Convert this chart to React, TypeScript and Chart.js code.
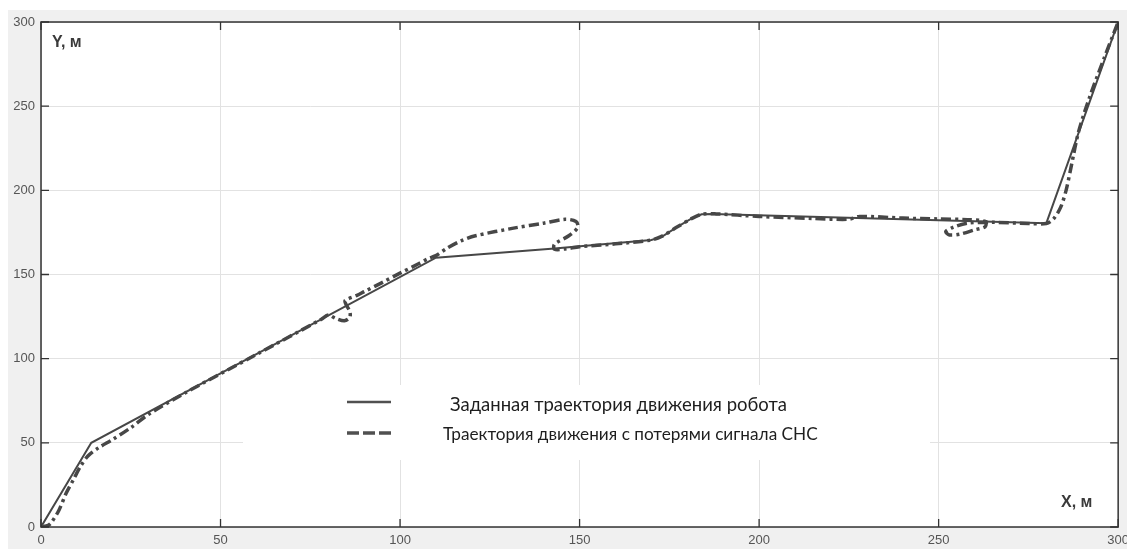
import { useEffect, useRef } from 'react';
import { Chart, registerables } from 'chart.js';

Chart.register(...registerables);

const xTicks = [0, 50, 100, 150, 200, 250, 300];
const yTicks = [0, 50, 100, 150, 200, 250, 300];

const xAxisLabel = 'X, м';
const yAxisLabel = 'Y, м';

const legendLabels = [
  'Заданная траектория движения робота',
  'Траектория движения с потерями сигнала СНС',
];

// Given (planned) trajectory
const solidX = [0, 14, 110, 143, 170, 173, 177, 181, 184, 187, 280, 300];
const solidY = [0, 50, 160, 165.5, 170.5, 172.5, 178, 183, 185.8, 186, 180.5, 300];

// Trajectory with GNSS signal losses
const dashedX = [
  0, 2, 3, 5, 7, 9, 11, 13, 16, 20, 25, 30, 40, 60, 78, 80, 82, 84.5, 86, 86, 85, 84.7, 88, 90, 95,
  100, 105, 108, 110, 113, 117, 121, 132, 140, 146, 149, 149.5, 147, 143, 143, 146, 150, 160, 170,
  173, 177, 181, 184, 188, 200, 215, 225, 228, 240, 250, 258, 263, 263, 260, 256, 253, 252, 254,
  258, 265, 275, 280, 282, 284, 285.5, 287, 289, 292, 296, 300,
];
const dashedY = [
  0, 1, 3, 10, 20, 28, 36, 42, 47, 52, 59, 67, 79.5, 102.5, 123.3, 126, 124, 122.5, 124.5, 128, 132,
  134.5, 137.6, 139.8, 145.2, 150.8, 156.2, 159.6, 161.2, 165.5, 170, 173, 177.7, 180.5, 182.8, 181.5,
  178, 173, 168, 165, 165.2, 166.5, 168.2, 170.5, 172.8, 178, 183, 185.8, 186, 184.5, 183.3, 182.8,
  184.5, 183.5, 183, 182.6, 181.5, 178.5, 176.5, 174, 173.5, 175.5, 178, 180.5, 181, 180.3, 180.3,
  183, 190, 200, 215, 235, 255, 278, 300,
];

const LINE_COLOR = '#474747';

function fitText(ctx: CanvasRenderingContext2D, text: string, family: string, target: number) {
  ctx.font = `15px ${family}`;
  const w = ctx.measureText(text).width;
  const size = (15 * target) / w;
  ctx.font = `${size.toFixed(2)}px ${family}`;
}

const backgroundPlugin = {
  id: 'bg',
  beforeDraw(chart: any) {
    const { ctx, chartArea, width, height } = chart;
    ctx.save();
    ctx.fillStyle = '#f0f0f0';
    ctx.fillRect(0, 2, width, height - 2);
    ctx.fillStyle = '#ffffff';
    ctx.fillRect(chartArea.left, chartArea.top, chartArea.right - chartArea.left, chartArea.bottom - chartArea.top);
    ctx.restore();
  },
};

const legendPlugin = {
  id: 'customLegend',
  beforeDatasetsDraw(chart: any) {
    const { ctx } = chart;
    ctx.save();
    ctx.fillStyle = '#ffffff';
    ctx.fillRect(235, 377, 687, 75);
    // solid sample
    ctx.strokeStyle = '#505050';
    ctx.lineWidth = 2.5;
    ctx.beginPath();
    ctx.moveTo(339, 394);
    ctx.lineTo(383, 394);
    ctx.stroke();
    // dashed sample
    ctx.lineWidth = 3.5;
    ctx.setLineDash([12, 4]);
    ctx.beginPath();
    ctx.moveTo(339, 425);
    ctx.lineTo(383, 425);
    ctx.stroke();
    ctx.setLineDash([]);
    ctx.fillStyle = '#1e1e1e';
    ctx.textBaseline = 'middle';
    ctx.textAlign = 'left';
    fitText(ctx, legendLabels[0], 'Lato', 337);
    ctx.fillText(legendLabels[0], 442, 397);
    fitText(ctx, legendLabels[1], 'Lato', 375);
    ctx.fillText(legendLabels[1], 435, 426);
    ctx.restore();
  },
};

const framePlugin = {
  id: 'frame',
  afterDraw(chart: any) {
    const { ctx, chartArea, scales } = chart;
    const { left, right, top, bottom } = chartArea;
    ctx.save();
    ctx.strokeStyle = '#333333';
    ctx.lineWidth = 1.5;
    ctx.strokeRect(left, top, right - left, bottom - top);
    ctx.lineWidth = 1.3;
    const L = 8;
    ctx.beginPath();
    xTicks.forEach((v) => {
      const px = scales.x.getPixelForValue(v);
      ctx.moveTo(px, bottom);
      ctx.lineTo(px, bottom - L);
      ctx.moveTo(px, top);
      ctx.lineTo(px, top + L);
    });
    yTicks.forEach((v) => {
      const py = scales.y.getPixelForValue(v);
      ctx.moveTo(left, py);
      ctx.lineTo(left + L, py);
      ctx.moveTo(right, py);
      ctx.lineTo(right - L, py);
    });
    ctx.stroke();
    // axis labels
    ctx.fillStyle = '#3a3a3a';
    ctx.font = "bold 16px 'Liberation Sans'";
    ctx.textBaseline = 'alphabetic';
    ctx.textAlign = 'left';
    ctx.fillText(yAxisLabel, 44, 39);
    ctx.fillText(xAxisLabel, 1053, 499);
    ctx.restore();
  },
};

export default function App() {
  const ref = useRef<HTMLCanvasElement>(null);
  useEffect(() => {
    const tickFont = { family: "'Liberation Sans', Arial, sans-serif", size: 13 };
    const chart = new Chart(ref.current!, {
      type: 'scatter',
      data: {
        datasets: [
          {
            label: legendLabels[0],
            data: solidX.map((x, i) => ({ x, y: solidY[i] })),
            showLine: true,
            borderColor: LINE_COLOR,
            borderWidth: 2,
            pointRadius: 0,
            tension: 0,
          },
          {
            label: legendLabels[1],
            data: dashedX.map((x, i) => ({ x, y: dashedY[i] })),
            showLine: true,
            borderColor: LINE_COLOR,
            borderWidth: 3.5,
            borderDash: [10, 4, 3, 4],
            pointRadius: 0,
            tension: 0.3,
          },
        ],
      },
      options: {
        animation: false,
        responsive: false,
        maintainAspectRatio: false,
        layout: { padding: { top: 14, right: 7, left: 0, bottom: 0 } },
        plugins: { legend: { display: false }, tooltip: { enabled: false } },
        scales: {
          x: {
            type: 'linear',
            min: 0,
            max: 300,
            afterBuildTicks: (s: any) => {
              s.ticks = xTicks.map((v) => ({ value: v }));
            },
            afterFit: (s: any) => {
              s.height = 22;
            },
            grid: { color: '#e2e2e2', drawTicks: false, lineWidth: 1 },
            border: { display: false },
            ticks: { padding: 6, color: '#555555', font: tickFont, maxRotation: 0, autoSkip: false },
          },
          y: {
            type: 'linear',
            min: 0,
            max: 300,
            afterBuildTicks: (s: any) => {
              s.ticks = yTicks.map((v) => ({ value: v }));
            },
            afterFit: (s: any) => {
              s.width = 33;
            },
            grid: { color: '#e2e2e2', drawTicks: false, lineWidth: 1 },
            border: { display: false },
            ticks: { padding: 6, color: '#555555', font: tickFont, autoSkip: false },
          },
        },
      },
      plugins: [backgroundPlugin, legendPlugin, framePlugin],
    });
    return () => chart.destroy();
  }, []);
  return (
    <div style={{ width: 1127, height: 541 }}>
      <canvas ref={ref} width={1127} height={541} style={{ display: 'block' }} />
    </div>
  );
}
